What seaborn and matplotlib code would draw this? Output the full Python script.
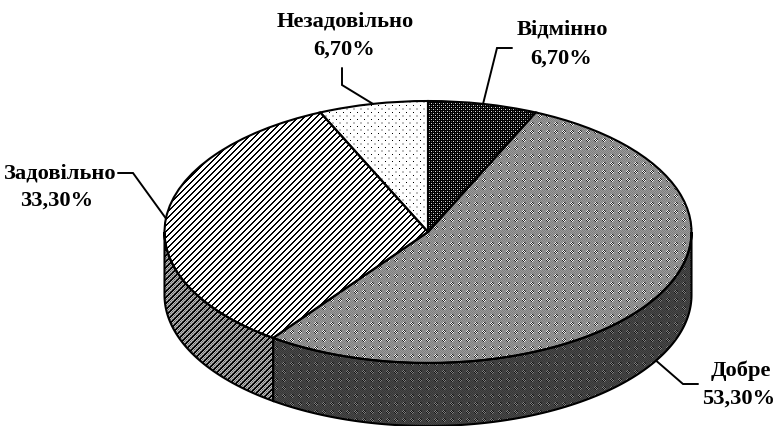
import numpy as np
import matplotlib
matplotlib.use("Agg")
import matplotlib.pyplot as plt
import seaborn as sns

# Grades and their shares, percent
categories = ["Відмінно", "Добре", "Задовільно", "Незадовільно"]
shares = [6.7, 53.3, 33.3, 6.7]

sns.set_theme(style="white")
plt.rcParams["font.family"] = ["Liberation Serif", "DejaVu Serif"]
plt.rcParams["font.weight"] = "bold"

W, H = 776, 426
CX, CY, RX, RY, DEPTH = 428.0, 232.0, 263.5, 131.0, 63.0
LW = 1.5


def to_data(px, py):
    return (px - CX) / RX, (CY - py) / RY


def tile_from(rows, tones):
    return np.array([[tones[c] for c in r] for r in rows])


def stripes(base):
    # Diagonal black stripes laid over a base tile, six pixels apart
    yy, xx = np.indices((12, 12))
    tile = np.tile(base, (12 // base.shape[0], 12 // base.shape[1])).copy()
    tile[(xx + yy) % 6 < 2] = 0.0
    return tile


weave_rows = [
    "msmsmsms",
    "smsmsmsm",
    "msmwkmms",
    "smwkwksm",
    "mskwkwms",
    "smskwmsm",
    "msmsmsms",
    "smsmsmsm",
]
dark_dots = tile_from(["kkkk", "kwkd", "kkkk", "kdkw"], {"k": 0.0, "d": 0.3, "w": 0.85})
gray_weave = tile_from(weave_rows, {"k": 0.15, "m": 0.5, "s": 0.6, "w": 0.95})
wall_dark = tile_from(weave_rows, {"k": 0.08, "m": 0.22, "s": 0.28, "w": 0.5})
sparse_dots = np.ones((7, 7))
sparse_dots[0, 0] = 0.0
sparse_dots[3:5, 3:5] = 0.75
wide_stripes = stripes(np.ones((2, 2)))
wall_stripes = stripes(tile_from(["ws", "mw"], {"m": 0.36, "s": 0.5, "w": 0.72}))

top_textures = [dark_dots, gray_weave, wide_stripes, sparse_dots]
wall_textures = [dark_dots, wall_dark, wall_stripes, sparse_dots]

fig = plt.figure(figsize=(W / 100, H / 100), dpi=100, facecolor="white")
ax = fig.add_axes([0, 0, 1, 1])

wedges, _ = ax.pie(
    shares,
    startangle=90,
    counterclock=False,
    radius=1.0,
    wedgeprops=dict(facecolor="none", edgecolor="black", linewidth=LW),
)
ax.set_aspect("auto")
xlim = (-CX / RX, (W - CX) / RX)
ylim = ((CY - H) / RY, CY / RY)


def paint(tile, clip):
    # Pixel-aligned texture, cut to the outline of one piece of the pie
    reps = (H // tile.shape[0] + 1, W // tile.shape[1] + 1)
    field = np.tile(tile, reps)[:H, :W]
    img = ax.imshow(field, cmap="gray", vmin=0, vmax=1, extent=(*xlim, *ylim),
                    origin="upper", interpolation="nearest", aspect="auto", zorder=0)
    img.set_clip_path(clip)


for wedge, tile in zip(wedges, top_textures):
    paint(tile, wedge)

# Side wall: the front half of the rim, pushed down by the depth of the disc
fractions = np.cumsum([0.0] + shares) / sum(shares) * 360.0
depth = DEPTH / RY
for start, stop, tile in zip(fractions[:-1], fractions[1:], wall_textures):
    lo, hi = max(start, 90.0), min(stop, 270.0)
    if hi <= lo:
        continue
    theta = np.radians(np.linspace(lo, hi, 200))
    xs, ys = np.sin(theta), np.cos(theta)
    outline = ax.fill(
        np.r_[xs, xs[::-1]], np.r_[ys, ys[::-1] - depth],
        facecolor="none", edgecolor="black", linewidth=LW, zorder=1,
    )[0]
    paint(tile, outline)

ax.set_xlim(*xlim)
ax.set_ylim(*ylim)
ax.axis("off")

# Labels with elbowed leaders running to the middle of each slice
label_style = [
    dict(name=(562, 30), value=(561, 59), elbow=[(497, 48), (512, 48)], drop=0.0),
    dict(name=(741, 371), value=(739, 399), elbow=[(683, 384), (698, 384)], drop=depth),
    dict(name=(60, 173), value=(57, 201), elbow=[(133, 173), (118, 173)], drop=0.0),
    dict(name=(345, 22), value=(344, 50), elbow=[(342, 85), (342, 68)], drop=0.0),
]
middles = (fractions[:-1] + fractions[1:]) / 2
for cat, share, mid, st in zip(categories, shares, np.radians(middles), label_style):
    for text, pos in ((cat, st["name"]), (f"{share:.2f}".replace(".", ",") + "%", st["value"])):
        x, y = to_data(*pos)
        ax.text(x, y, text, ha="center", va="center", fontsize=16.2,
                fontweight="bold", color="black", zorder=5)
    pts = [to_data(*p) for p in st["elbow"]]
    lx = [np.sin(mid)] + [p[0] for p in pts]
    ly = [np.cos(mid) - st["drop"]] + [p[1] for p in pts]
    ax.plot(lx, ly, color="black", linewidth=1.4, zorder=4, solid_joinstyle="miter")

fig.savefig("out.png", dpi=100, facecolor="white")
